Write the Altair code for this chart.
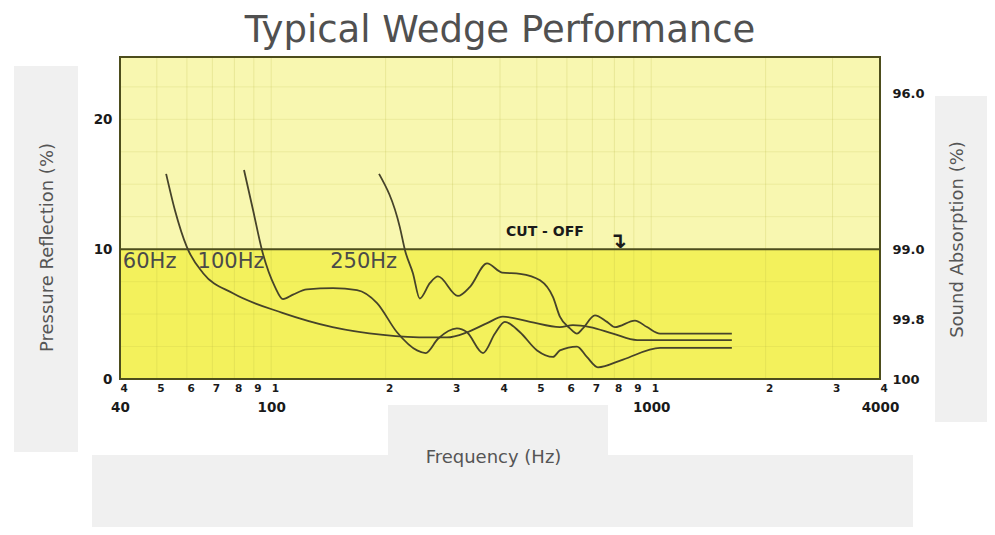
import altair as alt
import pandas as pd

# ---------------- data ----------------
freq_60 = [52.9, 55.8, 60.0, 66.2, 79.3, 107, 145, 197, 262, 290, 328, 370, 407, 480, 575, 622, 690, 793, 918, 1630]
refl_60 = [15.8, 13.0, 10.15, 8.15, 6.6, 5.1, 4.0, 3.4, 3.2, 3.2, 3.6, 4.3, 4.8, 4.4, 4.0, 4.15, 4.0, 3.5, 3.0, 3.0]

freq_100 = [84.8, 89.6, 94.6, 102.3, 107.4, 114.1, 124.2, 145.4, 168.2, 189.9, 214.3, 242, 255, 274.7, 308, 327.5, 361, 388, 412, 451.6, 500.8, 551.6, 575, 637.8, 677, 724, 843, 1055, 1630]
refl_100 = [16.1, 13.0, 9.9, 7.1, 6.15, 6.5, 6.9, 7.0, 6.85, 5.85, 3.6, 2.2, 2.0, 3.1, 3.9, 3.6, 2.0, 3.5, 4.4, 3.6, 2.2, 1.7, 2.2, 2.5, 1.7, 0.9, 1.5, 2.4, 2.4]

freq_250 = [192.2, 218, 225, 236, 246, 261.7, 274.7, 310, 333.5, 369.7, 405, 451.6, 509.8, 551.6, 575, 611, 637.8, 661, 711, 765, 803, 906, 975, 1055, 1630]
refl_250 = [15.8, 11.7, 9.9, 8.15, 6.2, 7.4, 7.9, 6.4, 7.1, 8.9, 8.2, 8.1, 7.6, 6.3, 4.8, 3.9, 3.5, 3.9, 4.9, 4.4, 4.0, 4.5, 4.0, 3.5, 3.5]

series_names = ["60Hz", "100Hz", "250Hz"]
label_freq = [40.7, 64, 143]
label_refl = [9.0, 9.0, 9.0]

x_domain = [40, 4000]
y_domain = [0, 24.8]
x_ticks = [40, 50, 60, 70, 80, 90, 100, 200, 300, 400, 500, 600, 700, 800, 900, 1000, 2000, 3000, 4000]
x_major = [40, 100, 1000, 4000]
left_ticks = [0, 10, 20]
right_tick_pos = [0, 4.6, 10, 22]
right_tick_labels = ["100", "99.8", "99.0", "96.0"]
grid_y = [2.5, 5, 7.5, 12.5, 15, 17.5, 20, 22.5]
cutoff_value = 10
cutoff_text = "CUT - OFF"
cutoff_text_pos = (525, 11.3)
cutoff_arrow = "\u21b4"
cutoff_arrow_pos = (815, 10.6)

# ---------------- styling ----------------
UPPER = "#f8f7b0"
LOWER = "#f3f15c"
FRAME = "#4d4d1c"
CURVE = "#46432a"
GRID = "#b5b540"
PANEL = "#f0f0f0"
WIDE = "DejaVu Sans"
LABEL = "#1a1a1a"
TITLE_GREY = "#555555"

curves = pd.concat([
    pd.DataFrame({"freq": f, "refl": r, "series": s})
    for f, r, s in [(freq_60, refl_60, series_names[0]),
                    (freq_100, refl_100, series_names[1]),
                    (freq_250, refl_250, series_names[2])]
])

xscale = alt.Scale(type="log", domain=x_domain, nice=False)
yscale = alt.Scale(domain=y_domain, nice=False, zero=False)

# decorative grey panels of the original slide (relative to plot origin)
panel_boxes = [(-106, -42, 9, 395), (815, 875, 39, 365), (-28, 793, 398, 470), (268, 488, 348, 398)]
panels = [
    alt.Chart(pd.DataFrame({"a": [0]})).mark_rect(color=PANEL).encode(
        x=alt.value(a), x2=alt.value(b), y=alt.value(c), y2=alt.value(d))
    for a, b, c, d in panel_boxes
]

minor_expr = "slice(toString(datum.value), 0, 1)"
axis_minor = alt.Axis(orient="bottom", values=x_ticks, labelExpr=minor_expr, ticks=False, domain=False,
                      grid=False, labelFont=WIDE, labelFontSize=10.5, labelFontWeight="bold",
                      labelColor=LABEL, labelPadding=4, labelAlign="left", labelFlush=False,
                      labelOverlap=False, title=None, zindex=2)
axis_major = alt.Axis(orient="bottom", values=x_major, format="d", ticks=False, domain=False,
                      grid=False, labelFont=WIDE, labelFontSize=13.5, labelFontWeight="bold",
                      labelColor=LABEL, labelPadding=21, labelFlush=False, labelOverlap=False,
                      title="Frequency (Hz)", titleFont=WIDE, titleFontSize=18, titleFontWeight="normal",
                      titleColor=TITLE_GREY, titleX=373, titleY=78, titleBaseline="middle", titleAlign="center",
                      zindex=2)
axis_left = alt.Axis(orient="left", values=left_ticks, ticks=False, domain=False, grid=False,
                     labelFont=WIDE, labelFontSize=13.5, labelFontWeight="bold", labelColor=LABEL,
                     labelPadding=8, title="Pressure Reflection (%)", titleFont=WIDE, titleFontSize=18,
                     titleFontWeight="normal", titleColor=TITLE_GREY, titleX=-73, titleY=190,
                     titleBaseline="middle", titleAlign="center", zindex=2)
right_expr = " : ".join(f"datum.value == {p} ? '{l}'" for p, l in zip(right_tick_pos, right_tick_labels)) + " : ''"
axis_right = alt.Axis(orient="right", values=right_tick_pos, labelExpr=right_expr, ticks=False, domain=False,
                      grid=False, labelFont=WIDE, labelFontSize=13, labelFontWeight="bold",
                      labelColor=LABEL, labelPadding=12, labelFlush=False, labelOverlap=False,
                      title="Sound Absorption (%)", titleFont=WIDE, titleFontSize=18,
                      titleFontWeight="normal", titleColor=TITLE_GREY, titleX=77, titleY=182,
                      titleAngle=270, titleBaseline="middle", titleAlign="center", zindex=2)

band = alt.Chart(pd.DataFrame({"x0": [x_domain[0]], "x1": [x_domain[1]],
                               "y0": [y_domain[0]], "y1": [cutoff_value]})).mark_rect(color=LOWER).encode(
    x=alt.X("x0:Q", scale=xscale, axis=axis_minor),
    x2="x1:Q",
    y=alt.Y("y0:Q", scale=yscale, axis=axis_left),
    y2="y1:Q",
)

vgrid = alt.Chart(pd.DataFrame({"xt": x_ticks})).mark_rule(color=GRID, opacity=0.22, strokeWidth=1).encode(
    x=alt.X("xt:Q", scale=xscale, axis=None))
hgrid = alt.Chart(pd.DataFrame({"yt": grid_y})).mark_rule(color=GRID, opacity=0.18, strokeWidth=1).encode(
    y=alt.Y("yt:Q", scale=yscale, axis=None))

cutoff = alt.Chart(pd.DataFrame({"c": [cutoff_value]})).mark_rule(color=FRAME, strokeWidth=2).encode(
    y=alt.Y("c:Q", scale=yscale, axis=None))

frame = alt.Chart(pd.DataFrame({"x0": [x_domain[0]], "x1": [x_domain[1]],
                                "y0": [y_domain[0]], "y1": [y_domain[1]]})).mark_rect(
    filled=False, stroke=FRAME, strokeWidth=2).encode(
    x=alt.X("x0:Q", scale=xscale, axis=None), x2="x1:Q",
    y=alt.Y("y0:Q", scale=yscale, axis=None), y2="y1:Q")

lines = alt.Chart(curves).mark_line(interpolate="monotone", color=CURVE, strokeWidth=1.8).encode(
    x=alt.X("freq:Q", scale=xscale, axis=axis_major),
    y=alt.Y("refl:Q", scale=yscale, axis=axis_right),
    detail="series:N",
)

labels = alt.Chart(pd.DataFrame({"f": label_freq, "r": label_refl, "t": series_names})).mark_text(
    align="left", baseline="middle", font=WIDE, fontSize=21, color="#4a4a4a").encode(
    x=alt.X("f:Q", scale=xscale, axis=None), y=alt.Y("r:Q", scale=yscale, axis=None), text="t:N")

cut_text = alt.Chart(pd.DataFrame({"f": [cutoff_text_pos[0]], "r": [cutoff_text_pos[1]], "t": [cutoff_text]})).mark_text(
    align="center", baseline="middle", font=WIDE, fontSize=14, fontWeight="bold", color=LABEL).encode(
    x=alt.X("f:Q", scale=xscale, axis=None), y=alt.Y("r:Q", scale=yscale, axis=None), text="t:N")

cut_arrow = alt.Chart(pd.DataFrame({"f": [cutoff_arrow_pos[0]], "r": [cutoff_arrow_pos[1]], "t": [cutoff_arrow]})).mark_text(
    align="center", baseline="middle", font=WIDE, fontSize=22, fontWeight="bold", color=LABEL).encode(
    x=alt.X("f:Q", scale=xscale, axis=None), y=alt.Y("r:Q", scale=yscale, axis=None), text="t:N")

chart = alt.layer(
    *panels, band, vgrid, hgrid, cutoff, frame, lines, labels, cut_text, cut_arrow
).resolve_axis(
    x="independent", y="independent"
).properties(
    width=760, height=322,
    padding={"left": 112, "top": 49, "right": 107, "bottom": 148},
    autosize=alt.AutoSizeParams(type="none"),
    title=alt.TitleParams("Typical Wedge Performance", font=WIDE, fontSize=37, fontWeight="normal",
                          color="#505050", anchor="middle", offset=6),
).configure_view(
    fill=UPPER, stroke=None
)

chart.save("out.html", embed_options={"renderer": "svg", "actions": False})
